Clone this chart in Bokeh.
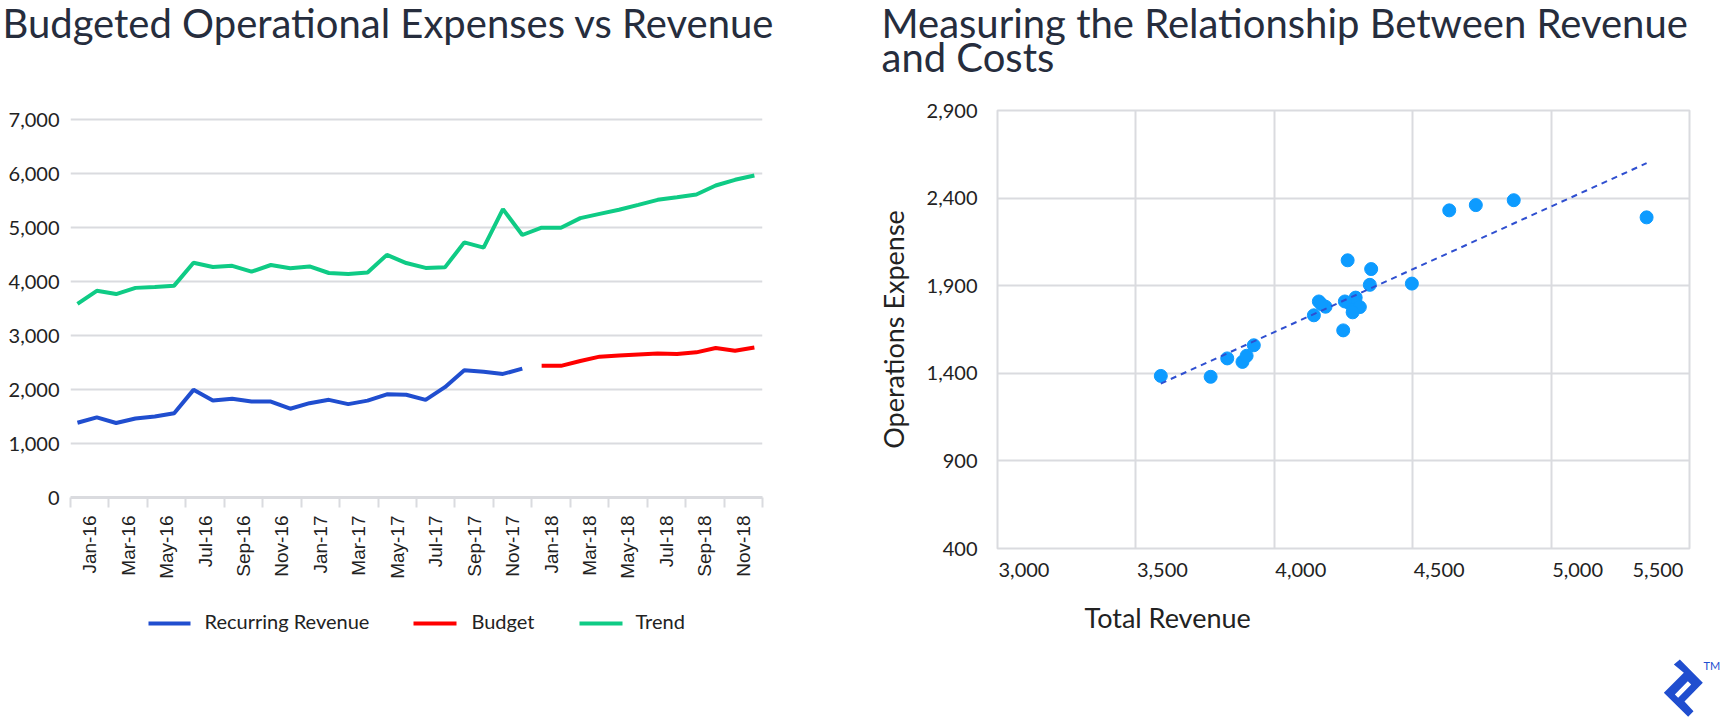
import numpy as np
from bokeh.plotting import figure
from bokeh.layouts import row, column
from bokeh.models import Range1d, FixedTicker, NumeralTickFormatter
from bokeh.core.properties import value
from bokeh.embed import file_html
from bokeh.resources import INLINE

# ---------------------------------------------------------------- data
months = ["Jan-16", "Feb-16", "Mar-16", "Apr-16", "May-16", "Jun-16",
          "Jul-16", "Aug-16", "Sep-16", "Oct-16", "Nov-16", "Dec-16",
          "Jan-17", "Feb-17", "Mar-17", "Apr-17", "May-17", "Jun-17",
          "Jul-17", "Aug-17", "Sep-17", "Oct-17", "Nov-17", "Dec-17",
          "Jan-18", "Feb-18", "Mar-18", "Apr-18", "May-18", "Jun-18",
          "Jul-18", "Aug-18", "Sep-18", "Oct-18", "Nov-18", "Dec-18"]
month_tick_labels = ["Jan-16", "Mar-16", "May-16", "Jul-16", "Sep-16", "Nov-16",
                     "Jan-17", "Mar-17", "May-17", "Jul-17", "Sep-17", "Nov-17",
                     "Jan-18", "Mar-18", "May-18", "Jul-18", "Sep-18", "Nov-18"]
series_names = ["Recurring Revenue", "Budget", "Trend"]

# actuals Jan-16 .. Dec-17
recurring_revenue = [1385, 1485, 1380, 1465, 1500, 1560, 1995, 1798, 1832, 1780, 1778, 1645,
                     1748, 1810, 1731, 1795, 1912, 1905, 1810, 2045, 2360, 2330, 2290, 2388]
# budget Jan-18 .. Dec-18
budget = [2440, 2440, 2530, 2610, 2630, 2650, 2670, 2660, 2690, 2770, 2720, 2780]
# trend Jan-16 .. Dec-18
trend = [3590, 3830, 3770, 3885, 3900, 3926, 4350, 4273, 4294, 4185, 4309, 4249,
         4283, 4161, 4143, 4170, 4497, 4345, 4255, 4265, 4728, 4632, 5345, 4865,
         5000, 5000, 5177, 5257, 5332, 5424, 5517, 5566, 5616, 5783, 5888, 5968]

expense_ticks = [0, 1000, 2000, 3000, 4000, 5000, 6000, 7000]

# scatter: total revenue against operations expense for the actual months
total_revenue = trend[:len(recurring_revenue)]
operations_expense = recurring_revenue
revenue_ticks = [3000, 3500, 4000, 4500, 5000, 5500]
revenue_tick_labels = ["3,000", "3,500", "4,000", "4,500", "5,000", "5,500"]
opex_ticks = [400, 900, 1400, 1900, 2400, 2900]

# ---------------------------------------------------------------- styles
BLUE = "#204ecf"
RED = "#ff0000"
GREEN = "#0fcb85"
DOT = "#0d9bff"
FIT = "#2f4fd0"
GRID = "#dadbdf"
INK = "#222222"
TITLE = "#262d3d"
FONT = "Lato"
SERIES_COLORS = [BLUE, RED, GREEN]

PAGE_W, PAGE_H = 1720, 718
HEAD_H = 88            # strip holding the two titles
BODY_H = 507           # the two charts
FOOT_H = PAGE_H - HEAD_H - BODY_H   # legend, x title and corner mark
FRAME_TOP = 110        # both chart frames start here on the page


def strip(height, top):
    """A bare figure whose data coordinates are page pixels (y grows downwards)."""
    f = figure(frame_width=PAGE_W, frame_height=height, title=None,
               x_range=Range1d(0, PAGE_W), y_range=Range1d(top + height, top),
               x_axis_location=None, y_axis_location=None,
               output_backend="svg", toolbar_location=None,
               min_border=0, min_border_left=0, min_border_right=0,
               min_border_top=0, min_border_bottom=0)
    f.outline_line_color = None
    f.grid.visible = False
    f.background_fill_color = "white"
    f.border_fill_color = "white"
    return f


# ================================================================ titles
head = strip(HEAD_H, 0)
head.text(x=[2, 881, 881], y=[22, 22, 56],
          text=["Budgeted Operational Expenses vs Revenue",
                "Measuring the Relationship Between Revenue", "and Costs"],
          text_font=value(FONT), text_font_size=value("40px"), text_color=TITLE,
          text_align="left", text_baseline="alphabetic")

# ================================================================ left chart
# frame runs from the shared top down to the zero line; 7,000 sits a little below the top
F1_W, F1_H = 692, 497 - FRAME_TOP
xr1 = (-0.36, 35.42)
yr1 = (0, 7000 * F1_H / (497 - 119.3))

p1 = figure(frame_width=F1_W, frame_height=F1_H, title=None,
            output_backend="svg", toolbar_location=None,
            x_range=Range1d(*xr1), y_range=Range1d(*yr1),
            min_border_left=70, min_border_right=860 - 70 - F1_W,
            min_border_top=FRAME_TOP - HEAD_H,
            min_border_bottom=BODY_H - (FRAME_TOP - HEAD_H) - F1_H)
p1.outline_line_color = None
p1.background_fill_color = "white"
p1.border_fill_color = "white"

x_all = list(range(len(months)))
n_act = len(recurring_revenue)
p1.line(x_all[:n_act], recurring_revenue, line_color=BLUE, line_width=4)
p1.line(x_all[n_act:], budget, line_color=RED, line_width=4)
p1.line(x_all, trend, line_color=GREEN, line_width=4)

# month axis: tick marks every two months, labels centred between them
nb = len(month_tick_labels)
bounds = [round(xr1[0] + k * (xr1[1] - xr1[0]) / nb, 6) for k in range(nb + 1)]
mids = [round((bounds[k] + bounds[k + 1]) / 2, 6) for k in range(nb)]
ax = p1.xaxis[0]
ax.ticker = FixedTicker(ticks=mids, minor_ticks=bounds)
ax.major_label_overrides = dict(zip(mids, month_tick_labels))
ax.major_tick_line_color = None
ax.major_tick_out = 10
ax.major_tick_in = 0
ax.minor_tick_line_color = GRID
ax.minor_tick_line_width = 2
ax.minor_tick_out = 10
ax.minor_tick_in = 0
ax.axis_line_color = GRID
ax.axis_line_width = 3
ax.major_label_orientation = np.pi / 2
ax.major_label_standoff = 8
ax.major_label_text_font = "Liberation Sans"
ax.major_label_text_font_size = "19px"
ax.major_label_text_color = INK

ay = p1.yaxis[0]
ay.ticker = FixedTicker(ticks=expense_ticks)
ay.formatter = NumeralTickFormatter(format="0,0")
ay.axis_line_color = None
ay.major_tick_line_color = None
ay.minor_tick_line_color = None
ay.major_tick_out = 0
ay.major_label_standoff = 11
ay.major_label_text_font = FONT
ay.major_label_text_font_size = "20px"
ay.major_label_text_color = INK

p1.xgrid.visible = False
p1.ygrid.ticker = FixedTicker(ticks=expense_ticks)
p1.ygrid.grid_line_color = GRID
p1.ygrid.grid_line_width = 2

# ================================================================ right chart
F2_W, F2_H = 692, 548 - FRAME_TOP
xr2 = (3000, 5500)
yr2 = (400, 2900)

p2 = figure(frame_width=F2_W, frame_height=F2_H, title=None,
            output_backend="svg", toolbar_location=None,
            x_range=Range1d(*xr2), y_range=Range1d(*yr2),
            min_border_left=137, min_border_right=860 - 137 - F2_W,
            min_border_top=FRAME_TOP - HEAD_H,
            min_border_bottom=BODY_H - (FRAME_TOP - HEAD_H) - F2_H)
p2.background_fill_color = "white"
p2.border_fill_color = "white"
p2.outline_line_color = GRID
p2.outline_line_width = 2

p2.xgrid.ticker = FixedTicker(ticks=revenue_ticks)
p2.ygrid.ticker = FixedTicker(ticks=opex_ticks)
for g in (p2.xgrid, p2.ygrid):
    g.grid_line_color = GRID
    g.grid_line_width = 2

p2.scatter(total_revenue, operations_expense, size=13, color=DOT, line_color=DOT)

# linear trendline over the observed revenue span
slope, icpt = np.polyfit(total_revenue, operations_expense, 1)
fit_x = [min(total_revenue), max(total_revenue)]
fit_y = [slope * v + icpt for v in fit_x]
p2.line(fit_x, fit_y, line_color=FIT, line_width=2, line_dash="6 5")

# revenue labels start at their gridline; the last one ends at the frame edge
px_per_unit = F2_W / (xr2[1] - xr2[0])
half_w = 26.5 / px_per_unit
lab_pos = [round(t + half_w, 2) for t in revenue_ticks[:-1]]
lab_pos.append(round(revenue_ticks[-1] - (5 + 26.5) / px_per_unit, 2))
bx = p2.xaxis[0]
bx.ticker = FixedTicker(ticks=lab_pos)
bx.major_label_overrides = dict(zip(lab_pos, revenue_tick_labels))
bx.axis_line_color = None
bx.major_tick_line_color = None
bx.minor_tick_line_color = None
bx.major_tick_out = 0
bx.major_label_standoff = 14
bx.major_label_text_font = FONT
bx.major_label_text_font_size = "20px"
bx.major_label_text_color = INK

by = p2.yaxis[0]
by.ticker = FixedTicker(ticks=opex_ticks)
by.formatter = NumeralTickFormatter(format="0,0")
by.axis_line_color = None
by.major_tick_line_color = None
by.minor_tick_line_color = None
by.major_tick_out = 0
by.major_label_standoff = 20
by.major_label_text_font = FONT
by.major_label_text_font_size = "20px"
by.major_label_text_color = INK
by.axis_label = "Operations Expense"
by.axis_label_text_font = FONT
by.axis_label_text_font_size = "27px"
by.axis_label_text_font_style = "normal"
by.axis_label_text_color = INK
by.axis_label_standoff = 14

# ================================================================ footer
foot = strip(FOOT_H, HEAD_H + BODY_H)

# legend for the left chart
key_y = 623
key_x0 = [148, 413, 579]
key_x1 = [190, 456, 622]
key_tx = [204, 471, 635]
foot.multi_line(xs=[[a, b] for a, b in zip(key_x0, key_x1)], ys=[[key_y, key_y]] * 3,
                line_color=SERIES_COLORS, line_width=4)
foot.text(x=key_tx, y=[key_y - 3] * 3, text=series_names,
          text_font=value(FONT), text_font_size=value("20px"), text_color=INK,
          text_align="left", text_baseline="middle")

# x title of the scatter chart
foot.text(x=[1084], y=[617], text=["Total Revenue"],
          text_font=value(FONT), text_font_size=value("27px"), text_color=INK,
          text_align="left", text_baseline="alphabetic")

# corner mark
mark_outer = [(130, 72), (148, 57), (217, 127), (162, 183), (189, 212), (173, 229),
              (100, 157), (160, 97)]
mark_slot = [(133, 162), (172, 122), (182, 132), (143, 172)]


def mark_xy(pts):
    return [1630 + a / 3 for a, _ in pts], [640 + b / 3 for _, b in pts]


mox, moy = mark_xy(mark_outer)
msx, msy = mark_xy(mark_slot)
foot.multi_polygons(xs=[[[mox, msx]]], ys=[[[moy, msy]]],
                    fill_color=BLUE, line_color=None)
foot.text(x=[1703], y=[665], text=["TM"],
          text_font=value(FONT), text_font_size=value("11px"), text_color=BLUE,
          text_align="left", text_baseline="alphabetic")

layout = column(head, row(p1, p2), foot)
open("out.html", "w").write(file_html(layout, INLINE))
